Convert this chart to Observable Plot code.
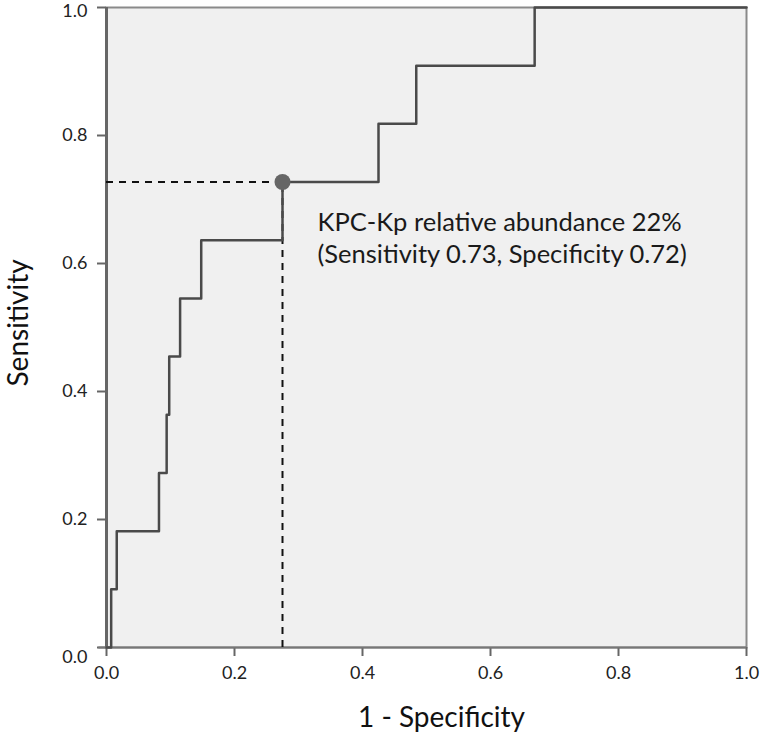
<!DOCTYPE html>
<html>
<head>
<meta charset="utf-8">
<script src="https://cdn.jsdelivr.net/npm/d3@7"></script>
<script src="https://cdn.jsdelivr.net/npm/@observablehq/plot@0.6"></script>
<style>
  html, body { margin: 0; padding: 0; background: #fff; }
</style>
</head>
<body>
<div id="chart"></div>
<script>
// ROC curve (step) — 1 - Specificity vs Sensitivity
const fpr = [0, 0.0073, 0.016, 0.082, 0.094, 0.098, 0.115, 0.148, 0.275, 0.425, 0.484, 0.669, 1];
const tpr = [0, 0.0909, 0.1818, 0.2727, 0.3636, 0.4545, 0.5455, 0.6364, 0.7273, 0.8182, 0.9091, 1, 1];
const cutX = 0.275;
const cutY = 0.7273;
const annotationLines = ["KPC-Kp relative abundance 22%", "(Sensitivity 0.73, Specificity 0.72)"];
const xTicks = [0, 0.2, 0.4, 0.6, 0.8, 1.0];
const yTicks = [0, 0.2, 0.4, 0.6, 0.8, 1.0];
const xLabel = "1 - Specificity";
const yLabel = "Sensitivity";

const roc = fpr.map((x, i) => ({x, y: tpr[i]}));
const cut = [{x: cutX, y: cutY}];
const font = "Lato, 'Open Sans', sans-serif";
const fmt = d3.format(".1f");
const tickFont = 18;

const chart = Plot.plot({
  width: 780,
  height: 744,
  marginLeft: 106,
  marginRight: 34,
  marginTop: 7,
  marginBottom: 97,
  x: {domain: [0, 1]},
  y: {domain: [0, 1]},
  style: {background: "#fff", fontFamily: font, color: "#222"},
  marks: [
    Plot.frame({fill: "#f0f0f0", stroke: "#8a8a8a", strokeWidth: 2}),
    Plot.axisX({ticks: xTicks, tickFormat: fmt, tickSize: 9, tickPadding: 10,
      fontSize: tickFont, stroke: "#666", strokeWidth: 2, label: null}),
    Plot.axisY({ticks: yTicks, tickFormat: fmt, tickSize: 9, tickPadding: 10,
      fontSize: tickFont, stroke: "#666", strokeWidth: 2, label: null, text: null}),
    Plot.axisY({ticks: yTicks.filter(d => d > 0 && d < 1), tickFormat: fmt, tickSize: 0, tickPadding: 19,
      fontSize: tickFont, label: null, tick: null}),
    Plot.axisY({ticks: [1], tickFormat: fmt, tickSize: 0, tickPadding: 19, dy: 4,
      fontSize: tickFont, label: null, tick: null}),
    Plot.axisY({ticks: [0], tickFormat: fmt, tickSize: 0, tickPadding: 19, dy: 10,
      fontSize: tickFont, label: null, tick: null}),
    Plot.ruleX([0], {stroke: "#666", strokeWidth: 3}),
    Plot.ruleY([0], {x1: -0.012, x2: 1, stroke: "#777", strokeWidth: 2}),
    Plot.ruleY(cut, {y: "y", x1: 0, x2: "x", stroke: "#111", strokeWidth: 2, strokeDasharray: "7,6"}),
    Plot.ruleX(cut, {x: "x", y1: 0, y2: "y", stroke: "#111", strokeWidth: 2, strokeDasharray: "7,6"}),
    Plot.line(roc, {x: "x", y: "y", curve: "step-after", stroke: "#4a4a4a", strokeWidth: 2.5}),
    Plot.dot(cut, {x: "x", y: "y", r: 8, fill: "#666", stroke: "none"}),
    Plot.text(cut, {x: "x", y: "y", text: () => annotationLines.join("\n"), textAnchor: "start",
      lineAnchor: "middle", lineHeight: 1.26, dx: 35, dy: 55, fontSize: 25.5, fill: "#1a1a1a"}),
    Plot.text([xLabel], {frameAnchor: "bottom", dx: 15, dy: 71, fontSize: 28, fill: "#111", lineAnchor: "middle"}),
    Plot.text([yLabel], {frameAnchor: "left", dx: -87, dy: 59, rotate: -90, fontSize: 28, fill: "#111", lineAnchor: "middle"})
  ]
});
document.getElementById("chart").appendChild(chart);
</script>
</body>
</html>
